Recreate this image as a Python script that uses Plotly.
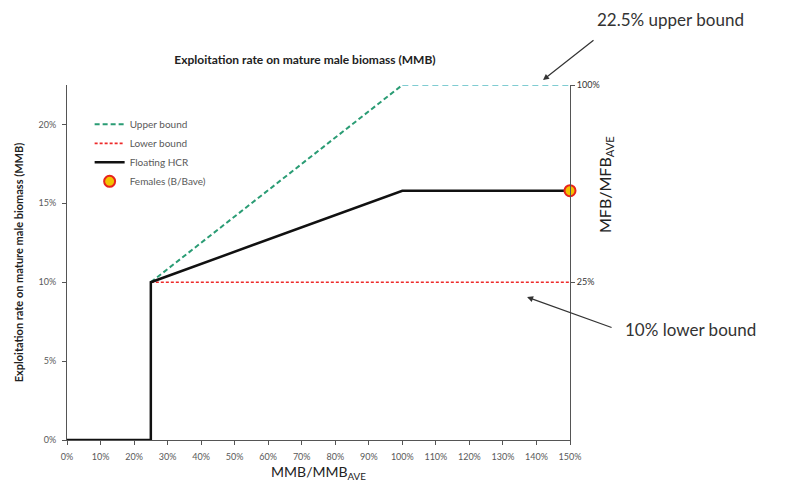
import plotly.graph_objects as go

# ---- data (percent) ----
hcr_x = [0, 25, 25, 100, 150]
hcr_y = [0, 0, 10, 15.8, 15.8]

upper_x = [25, 100]
upper_y = [10, 22.5]
upper_flat_x = [100, 150]
upper_flat_y = [22.5, 22.5]

lower_x = [25, 150]
lower_y = [10, 10]

fem_x = [150]
fem_y = [15.8]

x_ticks = list(range(0, 151, 10))
x_tick_labels = [f"{v}%" for v in x_ticks]
y_ticks = [0, 5, 10, 15, 20]
y_tick_labels = [f"{v}%" for v in y_ticks]
y2_ticks = [25, 100]
y2_tick_labels = ["25%", "100%"]

FONT = "Lato, 'Liberation Sans', sans-serif"
GRAY = "#595959"
OFF = 8  # page body margin in the browser

fig = go.Figure()
fig.add_trace(go.Scatter(x=upper_x, y=upper_y, mode="lines", name="Upper bound",
                         line=dict(color="#2a9c74", width=2, dash="5px,3px")))
fig.add_trace(go.Scatter(x=upper_flat_x, y=upper_flat_y, mode="lines", showlegend=False,
                         line=dict(color="#55bcc4", width=1.5, dash="6px,4px"),
                         cliponaxis=False))
fig.add_trace(go.Scatter(x=lower_x, y=lower_y, mode="lines", name="Lower bound",
                         line=dict(color="#ee2a2a", width=1.6, dash="3px,2px")))
fig.add_trace(go.Scatter(x=hcr_x, y=hcr_y, mode="lines", name="Floating HCR",
                         line=dict(color="#111111", width=2.5)))
fig.add_trace(go.Scatter(x=fem_x, y=fem_y, mode="markers", name="Females (B/Bave)",
                         marker=dict(size=11, color="#f2c200",
                                     line=dict(color="#e8231c", width=2)),
                         cliponaxis=False))
# invisible trace on secondary axis
fig.add_trace(go.Scatter(x=[0], y=[25], yaxis="y2", mode="markers",
                         marker=dict(opacity=0), showlegend=False, hoverinfo="skip"))

fig.update_layout(
    width=789 - OFF, height=489 - OFF,
    margin=dict(l=67 - OFF, r=219, t=85 - OFF, b=49, autoexpand=False),
    paper_bgcolor="white", plot_bgcolor="white",
    font=dict(family=FONT, color=GRAY, size=9),
    title=dict(text="<b>Exploitation rate on mature male biomass (MMB)</b>",
               x=(305 - OFF) / (789 - OFF), xanchor="center", xref="container",
               y=1 - (60 - OFF) / (489 - OFF), yanchor="middle",
               font=dict(size=12, color="#222222", family=FONT)),
    xaxis=dict(range=[0, 150], tickvals=x_ticks, ticktext=x_tick_labels,
               showline=True, linecolor="#555555", linewidth=1,
               ticks="outside", ticklen=4, tickcolor="#555555",
               showgrid=False, zeroline=False, ticklabelstandoff=4, automargin=False,
               title=dict(text="MMB/MMB<sub>AVE</sub>", standoff=6,
                          font=dict(size=14, color="#222222"))),
    yaxis=dict(range=[0, 22.5], tickvals=y_ticks, ticktext=y_tick_labels,
               showline=True, linecolor="#555555", linewidth=1,
               ticks="outside", ticklen=4, tickcolor="#555555",
               showgrid=False, zeroline=False, ticklabelstandoff=4, automargin=False,
               title=dict(text="<b>Exploitation rate on mature male biomass (MMB)</b>",
                          standoff=12, font=dict(size=11, color="#222222"))),
    yaxis2=dict(overlaying="y", side="right", range=[-35, 100],
                tickvals=y2_ticks, ticktext=y2_tick_labels,
                showline=True, linecolor="#555555", linewidth=1,
                ticks="outside", ticklen=4, tickcolor="#555555",
                showgrid=False, zeroline=False, automargin=False,
                tickfont=dict(size=9, color="#333333")),
    legend=dict(x=0.045, y=0.93, xanchor="left", yanchor="top",
                bgcolor="rgba(0,0,0,0)", font=dict(size=10, color=GRAY),
                tracegroupgap=0, itemwidth=30),
    showlegend=True,
)

fig.add_annotation(text="MFB/MFB<sub>AVE</sub>", xref="paper", yref="paper",
                   x=(605 - 67) / 503, y=(440 - 185) / 355, textangle=-90,
                   showarrow=False, font=dict(size=16, color="#222222"),
                   xanchor="center", yanchor="middle")

# upper bound annotation (arrow head in paper coords, above the plot top)
fig.add_annotation(x=(543 - 67) / 503, y=(440 - 80) / 355, xref="paper", yref="paper",
                   text="", showarrow=True, arrowhead=2, arrowsize=1, arrowwidth=1.2,
                   arrowcolor="#333333", ax=52, ay=-41, axref="pixel", ayref="pixel")
fig.add_annotation(text="22.5% upper bound", xref="paper", yref="paper",
                   x=(595 - 67) / 503, y=(440 - 19) / 355,
                   xanchor="left", yanchor="middle", showarrow=False,
                   font=dict(size=17, color="#333333"))
# lower bound annotation
fig.add_annotation(x=137.2, y=9.06, xref="x", yref="y", text="",
                   showarrow=True, arrowhead=2, arrowsize=1, arrowwidth=1.2,
                   arrowcolor="#333333", ax=86, ay=31, axref="pixel", ayref="pixel")
fig.add_annotation(text="10% lower bound", xref="paper", yref="paper",
                   x=(623 - 67) / 503, y=(440 - 329) / 355,
                   xanchor="left", yanchor="middle", showarrow=False,
                   font=dict(size=17, color="#333333"))

fig.write_html("out.html")
